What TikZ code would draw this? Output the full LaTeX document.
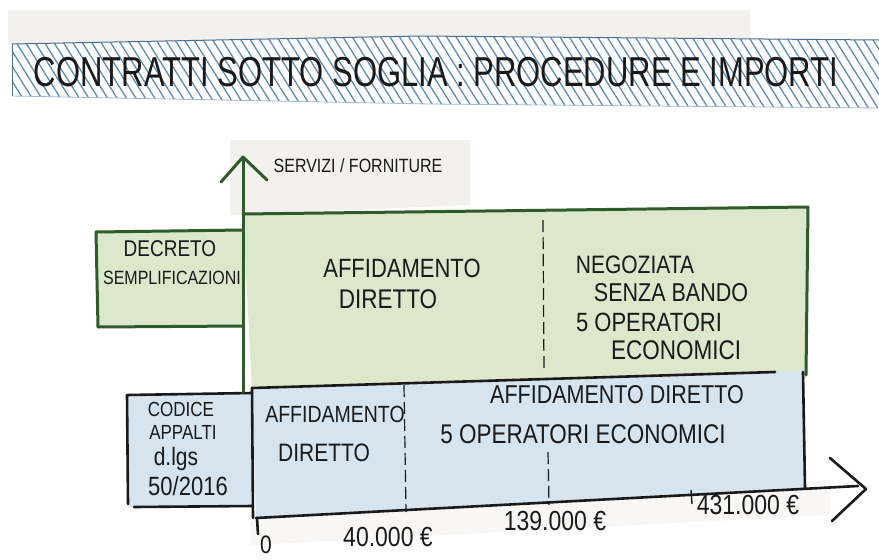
\documentclass[tikz,border=0pt]{standalone}
\usepackage{fontspec}
\setmainfont{Liberation Sans}
\usetikzlibrary{patterns.meta}
\definecolor{dgreen}{HTML}{2F5A2A}
\definecolor{lgreen}{HTML}{DCE8CB}
\definecolor{lblue}{HTML}{D6E4EF}
\definecolor{hatch}{HTML}{5F8CB3}
\definecolor{paper}{HTML}{F3F1EE}
\definecolor{ink}{HTML}{1A1A1A}
\newcommand{\tx}[1]{\scalebox{1}[1.2]{#1}}
\tikzset{
  lab/.style={font=\fontsize{#1}{#1}\selectfont, text=ink, inner sep=0pt, align=center},
  lab/.default=19,
  gline/.style={draw=dgreen, line width=3pt, line cap=round, line join=round},
  bline/.style={draw=ink, line width=2.6pt, line cap=round, line join=round},
  divline/.style={draw=ink, line width=1.2pt, dash pattern=on 12pt off 5pt},
}
\begin{document}
\begin{tikzpicture}[x=1pt,y=-1pt]
\useasboundingbox (0,0) rectangle (879,560);
% paper
\fill[paper] (8,10) -- (750,10) -- (750,40) -- (8,45) -- cycle;
\fill[paper] (230,140) -- (470,140) -- (470,205) -- (230,215) -- cycle;
\fill[paper!60!white] (250,515) -- (830,480) -- (830,515) -- (250,545) -- cycle;
% title banner
\fill[white] (12,44) -- (420,36) -- (879,40) -- (879,108) -- (430,104) -- (12,96) -- cycle;
\path[pattern={Lines[angle=-58,distance=8pt,line width=1.3pt]}, pattern color=hatch]
  (12,44) -- (420,36) -- (879,40) -- (879,108) -- (430,104) -- (12,96) -- cycle;
\draw[hatch!80!black, line width=1pt] (12,44) -- (420,36) -- (879,40);
\draw[hatch!60!white, line width=0.8pt] (12,96) -- (430,104) -- (879,108);
\draw[hatch!80!black, line width=1pt] (12,44) -- (12,96);
\node[lab=31] (title) at (436,72) {\scalebox{1}[1.35]{CONTRATTI SOTTO SOGLIA : PROCEDURE E IMPORTI}};
% green region
\fill[lgreen] (243,214) -- (808,207) -- (806,378) -- (252,390) -- cycle;
\fill[lgreen] (96,232) -- (243,230) -- (243,326) -- (98,327) -- cycle;
% blue region
\fill[lblue] (252,388) -- (804,371) -- (805,488) -- (256,518) -- cycle;
\fill[lblue] (127,395) -- (252,393) -- (253,506) -- (128,507) -- cycle;
% green borders
\draw[gline] (243,214) -- (808,207) -- (806,375);
\draw[gline] (96,232) -- (243,230);
\draw[gline] (243,326) -- (98,327) -- (96,232);
\draw[divline] (543,220) -- (544,372);
% blue borders
\draw[bline] (252,388) -- (775,372);
\draw[bline] (803,372) -- (805,488);
\draw[bline] (252,393) -- (127,395) -- (128,504);
\draw[bline] (134,507) -- (253,506);
\draw[bline] (252,388) -- (253,518);
\draw[divline] (404,385) -- (406,512);
\draw[divline] (548,452) -- (549,505);
% axes
\coordinate (yb) at (243,392);
\coordinate (yt) at (243,160);
\draw[gline] (yb) -- (yt);
\draw[gline] (221,182) -- (243,157) -- (267,180);
\coordinate (xo) at (256,518);
\coordinate (xe) at (858,486);
\draw[bline] (xo) -- (xe);
\draw[bline] (830,458) -- (866,489) -- (832,521);
\draw[bline] (257,518) -- (258,534);
\draw[line width=1.4pt, ink] (691,490) -- (692,504);
% labels
\node[lab=16] (ylab) at (358,166) {\tx{SERVIZI / FORNITURE}};
\node[lab=19] (decA) at (170,249) {\tx{DECRETO}};
\node[lab=16] (decB) at (172,278) {\tx{SEMPLIFICAZIONI}};
\node[lab=22] (gad1) at (402,268) {\tx{AFFIDAMENTO}};
\node[lab=22.5] (gad2) at (388,299) {\tx{DIRETTO}};
\node[lab=21] (neg1) at (635,265) {\tx{NEGOZIATA}};
\node[lab=21.5] (neg2) at (671,293) {\tx{SENZA BANDO}};
\node[lab=22] (neg3) at (649,322) {\tx{5 OPERATORI}};
\node[lab=22.5] (neg4) at (676,350) {\tx{ECONOMICI}};
\node[lab=17] (cod1) at (181,409) {\tx{CODICE}};
\node[lab=17] (cod2) at (183,432) {\tx{APPALTI}};
\node[lab=21] (cod3) at (176,459) {\tx{d.lgs}};
\node[lab=22] (cod4) at (188,486) {\tx{50/2016}};
\node[lab=19.5] (bad1) at (335,414) {\tx{AFFIDAMENTO}};
\node[lab=21] (bad2) at (324,453) {\tx{DIRETTO}};
\node[lab=21.5] (bad3) at (617,395) {\tx{AFFIDAMENTO DIRETTO}};
\node[lab=22.5] (bad4) at (583,434) {\tx{5 OPERATORI ECONOMICI}};
\node[lab=21] (t0) at (266,545) {\tx{0}};
\node[lab=23] (t1) at (388,537) {\tx{40.000 €}};
\node[lab=23] (t2) at (555,521) {\tx{139.000 €}};
\node[lab=23] (t3) at (748,505) {\tx{431.000 €}};
\end{tikzpicture}
\end{document}
